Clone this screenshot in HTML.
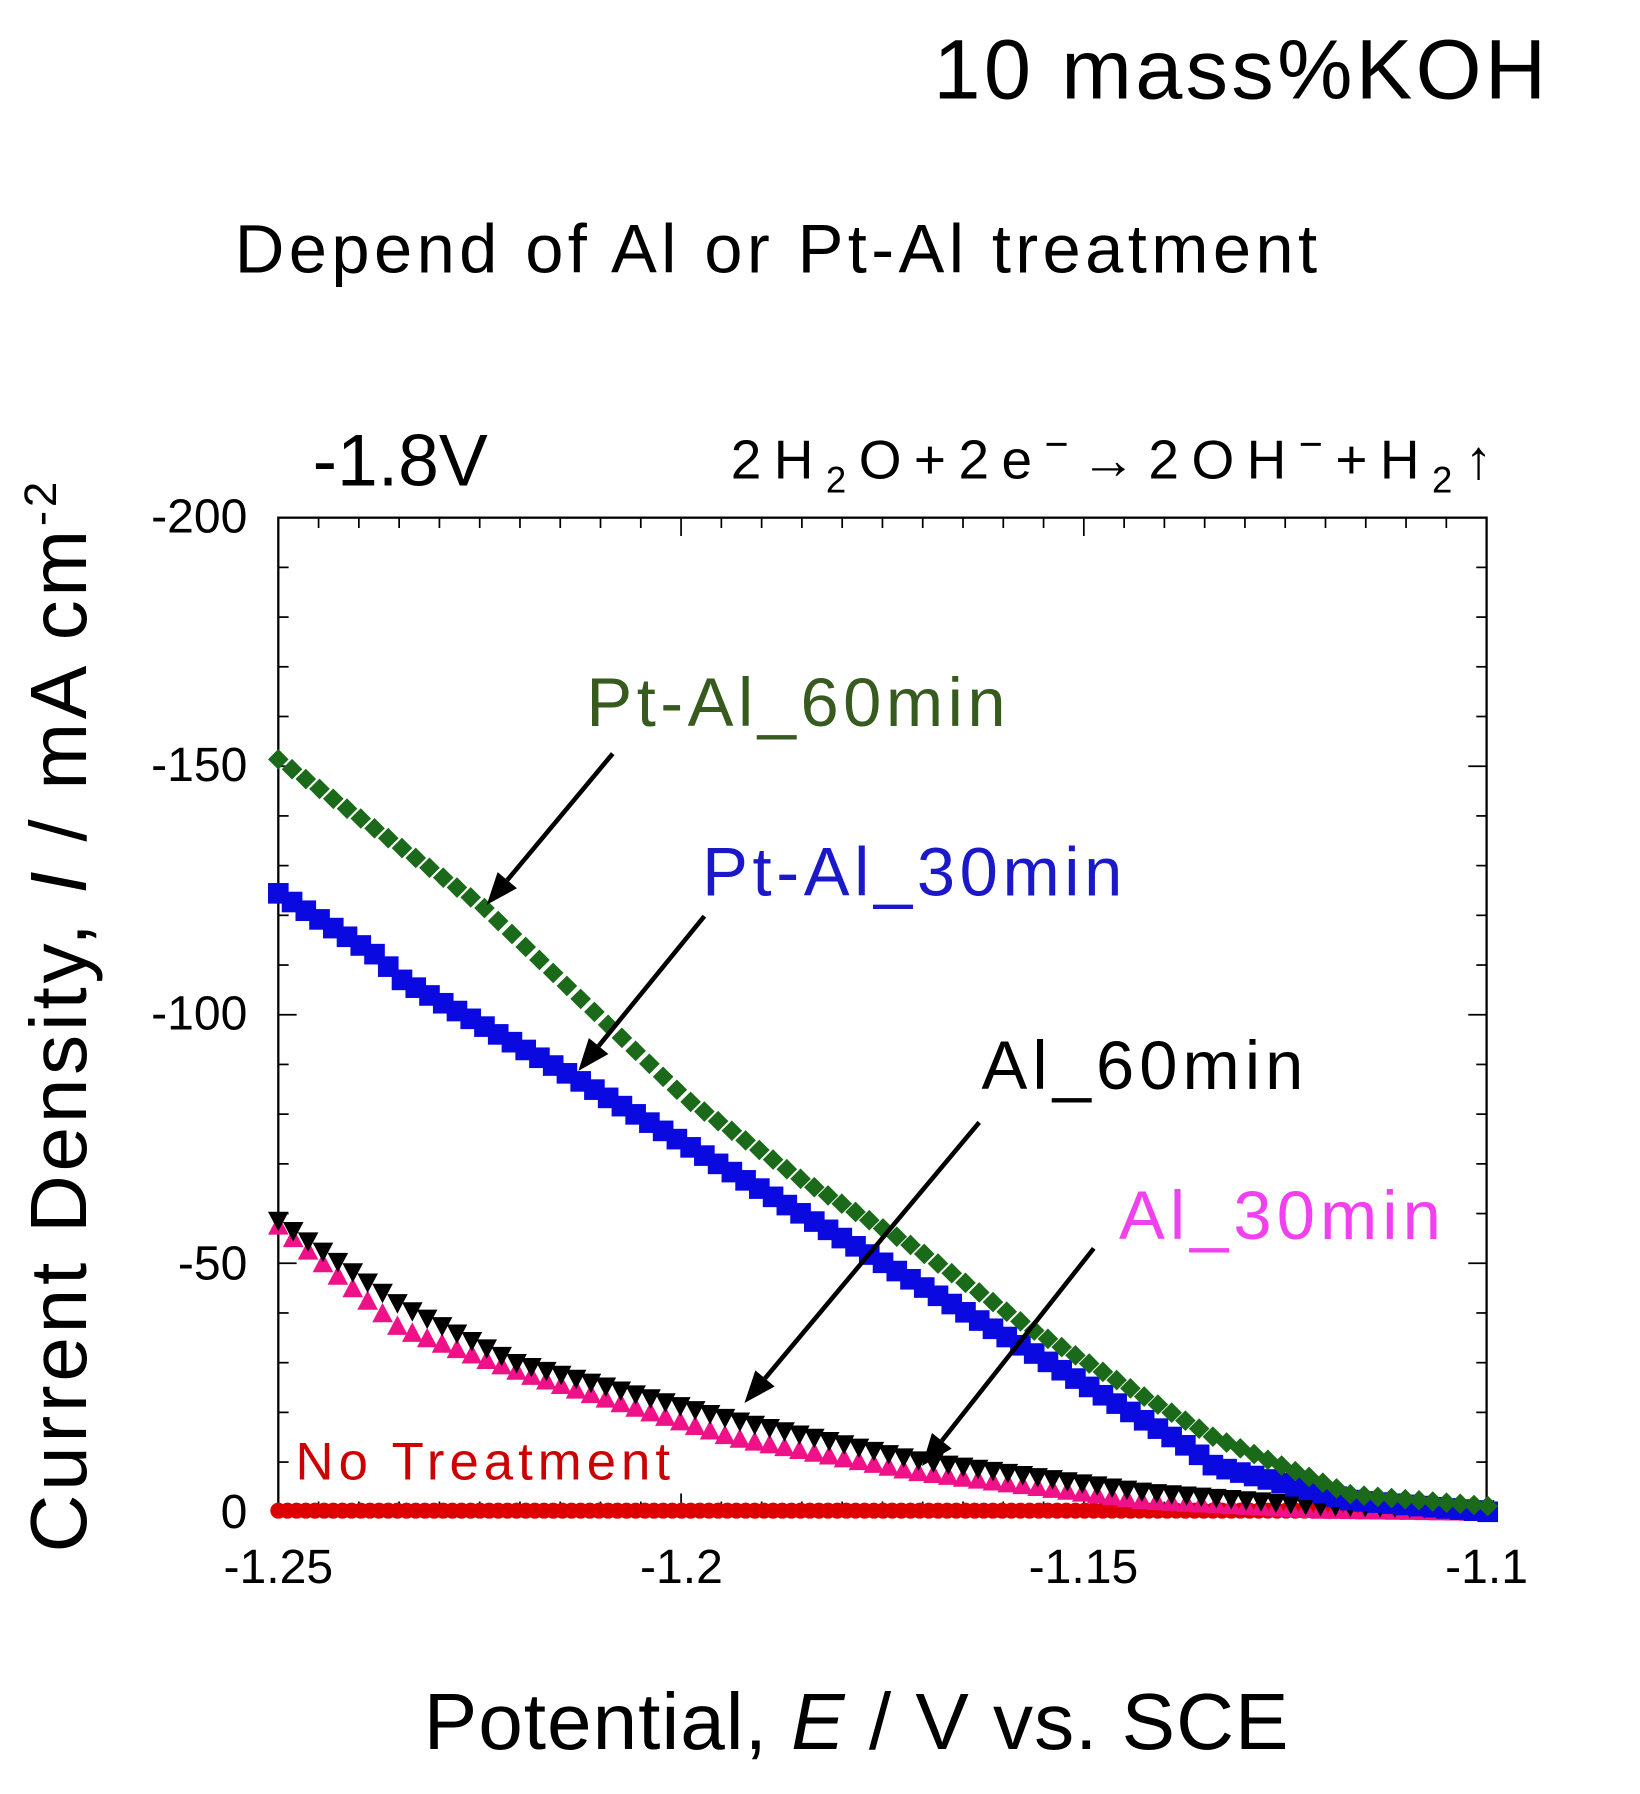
<!DOCTYPE html>
<html><head><meta charset="utf-8"><style>html,body{margin:0;padding:0;background:#fff}svg{display:block}</style></head>
<body>
<svg id="s" width="1640" height="1794" viewBox="0 0 1640 1794" xmlns="http://www.w3.org/2000/svg">
<g id="g" transform="scale(1.1453)" font-family="Liberation Sans, sans-serif">
<text x="815" y="86" font-size="74" textLength="535">10 mass%KOH</text>
<text x="205" y="238" font-size="60" textLength="945">Depend of Al or Pt-Al treatment</text>
<text x="273" y="424" font-size="64">-1.8V</text>
<text x="638" y="418" font-size="48" textLength="665">2H<tspan font-size="32" dy="12">2</tspan><tspan dy="-12">O+2e</tspan><tspan dy="-18" font-size="36">−</tspan><tspan dy="18">→2OH</tspan><tspan dy="-18" font-size="36">−</tspan><tspan dy="18">+H</tspan><tspan font-size="32" dy="12">2</tspan><tspan dy="-12">↑</tspan></text>
<rect x="243" y="452" width="1055" height="868" fill="none" stroke="#000" stroke-width="2"/>
<g id="ticks" stroke="#000" stroke-width="1.5"></g>
<g font-size="42" text-anchor="end">
<text x="216" y="465">-200</text><text x="216" y="682">-150</text><text x="216" y="899">-100</text><text x="216" y="1117">-50</text><text x="216" y="1334">0</text>
</g>
<g font-size="42" text-anchor="middle">
<text x="243" y="1382">-1.25</text><text x="595" y="1382">-1.2</text><text x="946" y="1382">-1.15</text><text x="1298" y="1382">-1.1</text>
</g>
<text transform="translate(75,888) rotate(-90)" font-size="70" text-anchor="middle" textLength="935">Current Density, <tspan font-style="italic">I</tspan> / mA cm<tspan font-size="40" dy="-26">-2</tspan></text>
<text x="370" y="1527" font-size="70" textLength="755">Potential, <tspan font-style="italic">E</tspan> / V vs. SCE</text>
<g id="data"></g>
<g stroke="#000" stroke-width="4" fill="#000" id="arr"></g>
<text x="512" y="634" font-size="60" fill="#375a1e" textLength="366">Pt-Al_60min</text>
<text x="613" y="782" font-size="60" fill="#1a18c8" textLength="367">Pt-Al_30min</text>
<text x="857" y="951" font-size="60" fill="#000" textLength="281">Al_60min</text>
<text x="977" y="1082" font-size="60" fill="#f040f0" textLength="281">Al_30min</text>
<text x="258" y="1292" font-size="46" fill="#cc0000" textLength="327">No Treatment</text>
</g>
</svg>
<script>
const NS="http://www.w3.org/2000/svg";
function el(p,t,a){const e=document.createElementNS(NS,t);for(const k in a)e.setAttribute(k,a[k]);p.appendChild(e);return e;}
const T=document.getElementById('ticks');
for(let i=1;i<20;i++){const y=452+868*i/20;const L=i%5==0?16:9;
el(T,'line',{x1:243,y1:y,x2:243+L,y2:y});el(T,'line',{x1:1298,y1:y,x2:1298-L,y2:y});}
for(let i=1;i<30;i++){const x=243+1055*i/30;const L=i%10==0?16:9;
el(T,'line',{x1:x,y1:452,x2:x,y2:452+L});el(T,'line',{x1:x,y1:1320,x2:x,y2:1320-L});}
function interp(pts,x){for(let i=0;i<pts.length-1;i++){if(x<=pts[i+1][0]){const a=pts[i],b=pts[i+1];return a[1]+(b[1]-a[1])*(x-a[0])/(b[0]-a[0]);}}return pts[pts.length-1][1];}
const D=document.getElementById('data');
function series(pts,step,draw){for(let x=243;x<=1299;x+=step){draw(x,interp(pts,x));}}
series([[243,1320],[1298,1320]],8,(x,y)=>el(D,'circle',{cx:x,cy:y-1,r:7,fill:'#dd0000'}));
series([[243,1070],[350,1160],[460,1200],[640,1255],[800,1285],[1000,1310],[1150,1318],[1298,1320]],13,(x,y)=>el(D,'polygon',{points:`${x},${y-9} ${x-9},${y+8} ${x+9},${y+8}`,fill:'#ee1188'}));
series([[243,1066],[350,1140],[450,1190],[640,1240],[800,1275],[1000,1303],[1150,1315],[1298,1318]],13,(x,y)=>el(D,'polygon',{points:`${x},${y+9} ${x-9},${y-8} ${x+9},${y-8}`,fill:'#000'}));
series([[243,780],[330,835],[350,855],[500,940],[700,1060],[900,1180],[1040,1265],[1060,1280],[1180,1310],[1298,1320]],12,(x,y)=>el(D,'rect',{x:x-9,y:y-9,width:18,height:18,fill:'#0a0ae0'}));
series([[243,663],[420,790],[600,960],[700,1030],[800,1090],[900,1160],[1000,1220],[1060,1255],[1180,1305],[1298,1315]],12,(x,y)=>el(D,'polygon',{points:`${x},${y-9} ${x+9},${y} ${x},${y+9} ${x-9},${y}`,fill:'#1a6a1a'}));
const A=document.getElementById('arr');
function arrow(x1,y1,x2,y2){const dx=x2-x1,dy=y2-y1,l=Math.hypot(dx,dy),ux=dx/l,uy=dy/l;const bx=x2-ux*28,by=y2-uy*28;
el(A,'line',{x1,y1,x2:bx,y2:by});el(A,'polygon',{points:`${x2},${y2} ${bx-uy*11},${by+ux*11} ${bx+uy*11},${by-ux*11}`,stroke:'none'});}
arrow(535,658,425,790);arrow(615,800,505,935);arrow(855,980,650,1225);arrow(955,1090,805,1280);
</script>
</body></html>
